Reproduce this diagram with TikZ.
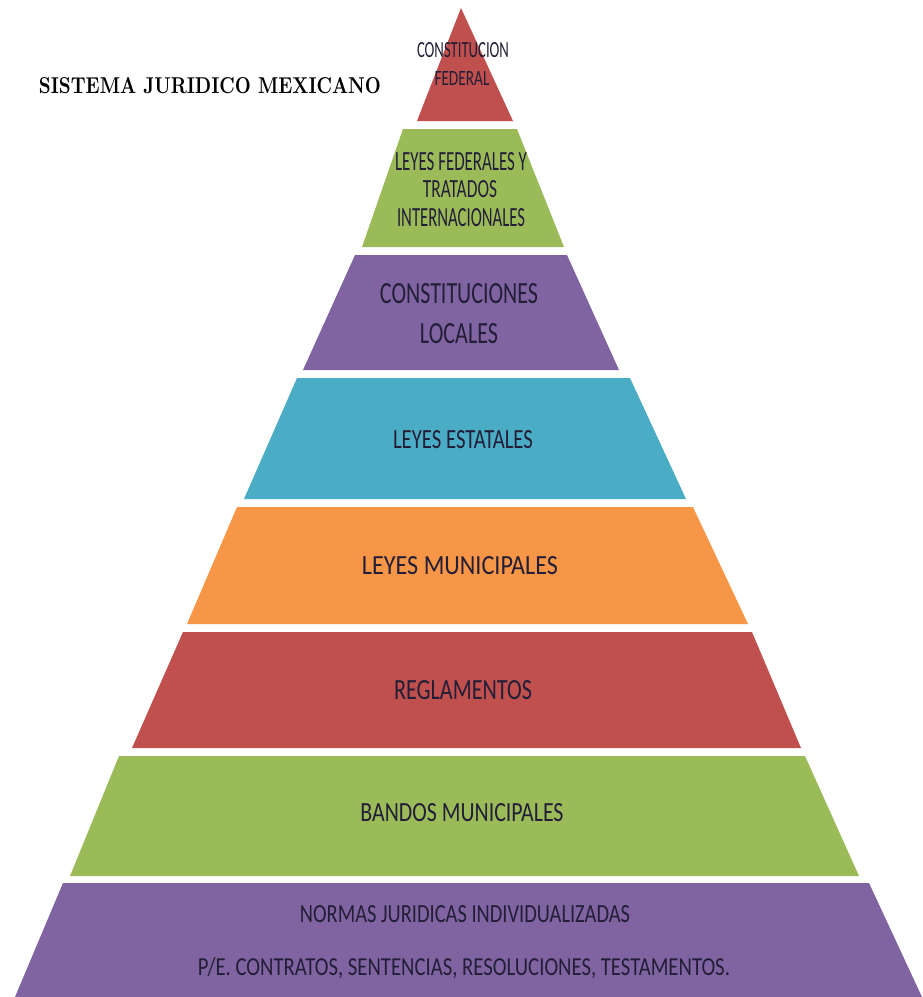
\documentclass[tikz,border=0pt]{standalone}
\usepackage{fontspec}
\usepackage{graphicx}
\newfontfamily\capafont{Carlito}
\definecolor{rojo}{HTML}{C0504D}
\definecolor{verde}{HTML}{9BBB59}
\definecolor{morado}{HTML}{8064A2}
\definecolor{azul}{HTML}{4BACC6}
\definecolor{naranja}{HTML}{F79646}
\definecolor{letra}{RGB}{35,30,55}
% text squeezed to the width and cap height it has in the drawing
\newcommand{\ajusta}[3]{\resizebox{#1pt}{#2pt}{\capafont #3}}
\tikzset{
  etiqueta/.style={anchor=base, inner sep=0pt, text=letra},
}
\begin{document}
\begin{tikzpicture}[x=1pt, y=-1pt]
    \useasboundingbox (0,0) rectangle (922,997);
    \fill[white] (0,0) rectangle (922,997);
    \node[anchor=base, inner sep=0pt] (titulo) at (210,93) {\resizebox{342pt}{16pt}{\bfseries SISTEMA JURIDICO MEXICANO}};
    % pyramid, top to bottom
    \fill[rojo] (461,8) -- (513,121) -- (417,121) -- cycle;
    \fill[verde] (403,129) -- (517,129) -- (564,247) -- (362,247) -- cycle;
    \fill[morado] (355,255) -- (567,255) -- (619,370) -- (303,370) -- cycle;
    \fill[azul] (297,378) -- (630,378) -- (686,499) -- (244,499) -- cycle;
    \fill[naranja] (237,507) -- (693,507) -- (748,624) -- (187,624) -- cycle;
    \fill[rojo] (183,632) -- (752,632) -- (801,748) -- (132,748) -- cycle;
    \fill[verde] (119,756) -- (805,756) -- (859,876) -- (70,876) -- cycle;
    \fill[morado] (63,883) -- (869,883) -- (922,997) -- (15,997) -- cycle;
    % labels
    \node[etiqueta] (constfed) at (463,57) {\ajusta{92}{15}{CONSTITUCION}};
    \node[etiqueta] (federal) at (462,85) {\ajusta{55}{14}{FEDERAL}};
    \node[etiqueta] (leyesfed) at (461,170) {\ajusta{132}{18}{LEYES FEDERALES Y}};
    \node[etiqueta] (tratados) at (460,197) {\ajusta{74}{17}{TRATADOS}};
    \node[etiqueta] (internac) at (461,226) {\ajusta{128}{18}{INTERNACIONALES}};
    \node[etiqueta] (constloc) at (459,303) {\ajusta{158}{20}{CONSTITUCIONES}};
    \node[etiqueta] (locales) at (459,343) {\ajusta{78}{20}{LOCALES}};
    \node[etiqueta] (estatales) at (463,448) {\ajusta{140}{18}{LEYES ESTATALES}};
    \node[etiqueta] (municip) at (460,574) {\ajusta{196}{18}{LEYES MUNICIPALES}};
    \node[etiqueta] (reglam) at (463,699) {\ajusta{138}{19}{REGLAMENTOS}};
    \node[etiqueta] (bandos) at (462,821) {\ajusta{203}{18}{BANDOS MUNICIPALES}};
    \node[etiqueta] (normas) at (465,922) {\ajusta{330}{17}{NORMAS JURIDICAS INDIVIDUALIZADAS}};
    \node[etiqueta] (ejemplos) at (464,975) {\ajusta{532}{18}{P/E. CONTRATOS, SENTENCIAS, RESOLUCIONES, TESTAMENTOS.}};
\end{tikzpicture}
\end{document}
